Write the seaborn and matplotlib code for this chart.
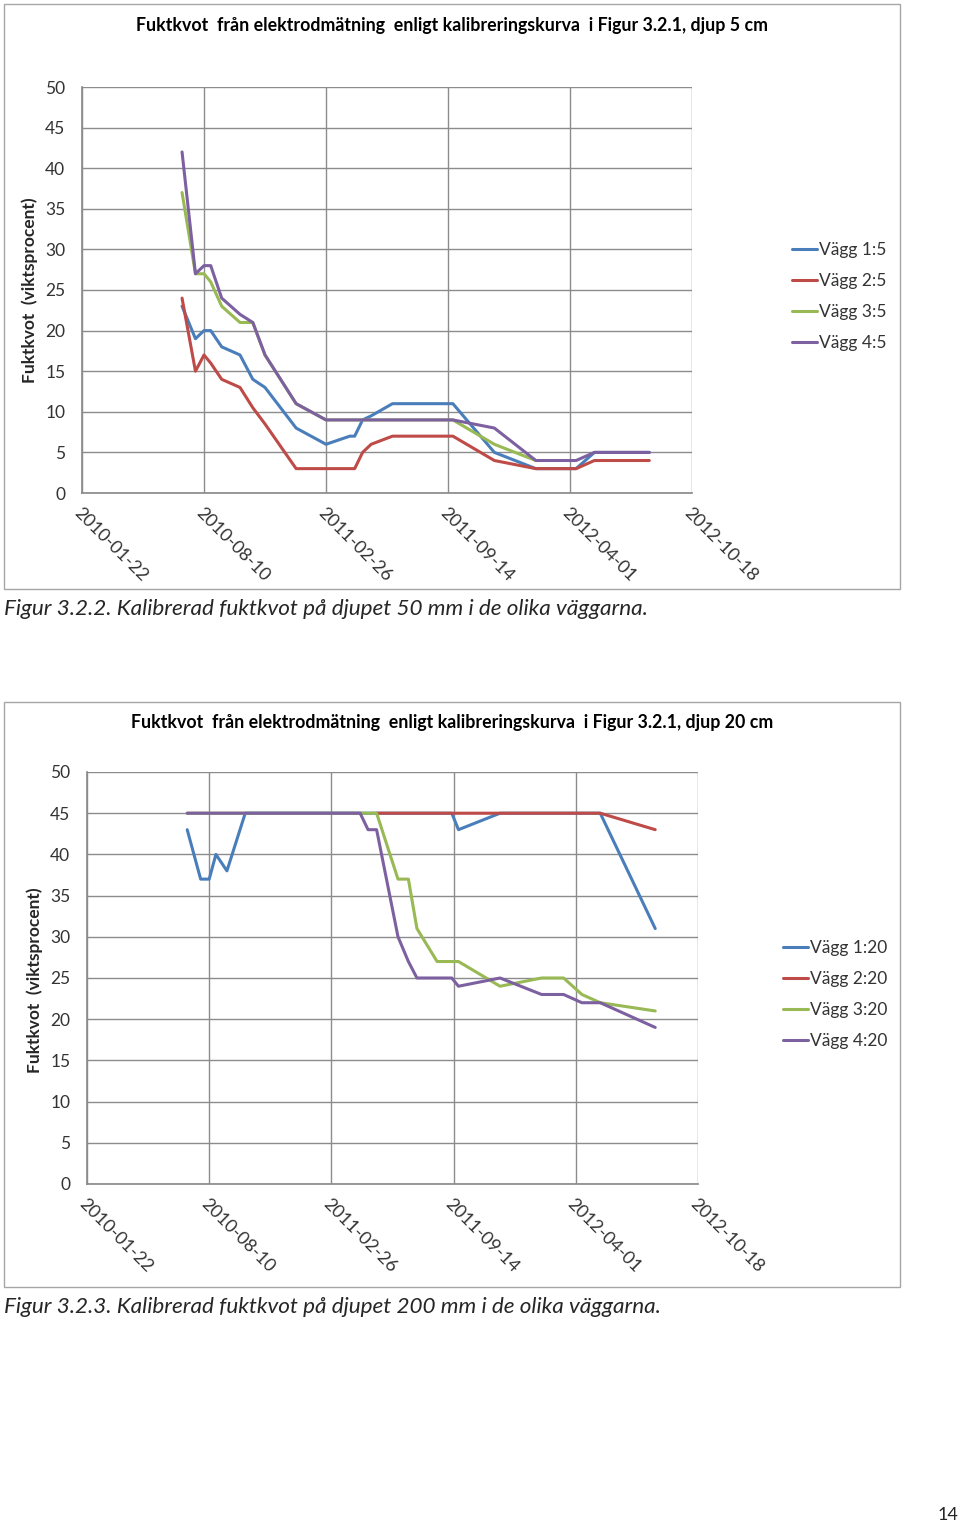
import pandas as pd
import numpy as np
import matplotlib
matplotlib.use("Agg")
import matplotlib.pyplot as plt
import matplotlib.dates as mdates
from matplotlib.patches import Rectangle
import seaborn as sns

# --- Data ---
nan = np.nan

# Figur 3.2.2, djup 5 cm
dates_5 = ['2010-07-05', '2010-07-27', '2010-08-10', '2010-08-21', '2010-09-08',
           '2010-10-08', '2010-10-29', '2010-11-18', '2011-01-08', '2011-02-26',
           '2011-04-06', '2011-04-14', '2011-04-27', '2011-05-11', '2011-06-15',
           '2011-09-22', '2011-11-29', '2012-02-05', '2012-04-11', '2012-05-11',
           '2012-08-09']
vagg1_5 = [23, 19, 20, 20, 18, 17, 14, 13, 8, 6, 7, 7, 9, 9.5, 11, 11, 5, 3, 3, 5, 5]
vagg2_5 = [24, 15, 17, 16, 14, 13, 10.5, 8.5, 3, 3, 3, 3, 5, 6, 7, 7, 4, 3, 3, 4, 4]
vagg3_5 = [37, 27, 27, 26, 23, 21, 21, 17, 11, 9, 9, 9, 9, 9, 9, 9, 6, 4, nan, nan, nan]
vagg4_5 = [42, 27, 28, 28, 24, 22, 21, 17, 11, 9, 9, 9, 9, 9, 9, 9, 8, 4, 4, 5, 5]
labels_5 = ['Vägg 1:5', 'Vägg 2:5', 'Vägg 3:5', 'Vägg 4:5']

# Figur 3.2.3, djup 20 cm
dates_20 = ['2010-07-05', '2010-07-27', '2010-08-10', '2010-08-21', '2010-09-08',
            '2010-10-08', '2010-11-18', '2011-01-08', '2011-02-26', '2011-04-14',
            '2011-04-27', '2011-05-11', '2011-06-15', '2011-07-02', '2011-07-16',
            '2011-08-18', '2011-09-11', '2011-09-22', '2011-11-29', '2012-02-05',
            '2012-03-12', '2012-04-11', '2012-05-11', '2012-08-09']
vagg1_20 = [43, 37, 37, 40, 38, 45, 45, 45, 45, 45, 45, 45, 45, 45, 45,
            45, 45, 43, 45, 45, 45, 45, 45, 31]
vagg2_20 = [nan, nan, nan, nan, nan, nan, nan, nan, nan, nan, nan, 45, 45, 45, 45,
            45, 45, 45, 45, 45, 45, 45, 45, 43]
vagg3_20 = [45, 45, 45, 45, 45, 45, 45, 45, 45, 45, 45, 45, 37, 37, 31,
            27, 27, 27, 24, 25, 25, 23, 22, 21]
vagg4_20 = [45, 45, 45, 45, 45, 45, 45, 45, 45, 45, 43, 43, 30, 27, 25,
            25, 25, 24, 25, 23, 23, 22, 22, 19]
labels_20 = ['Vägg 1:20', 'Vägg 2:20', 'Vägg 3:20', 'Vägg 4:20']

tick_dates = ['2010-01-22', '2010-08-10', '2011-02-26', '2011-09-14', '2012-04-01', '2012-10-18']

COLORS = ['#4A7EBB', '#BE4B48', '#98B954', '#7D60A0']
GRID = '#8C8C8C'
TXT = '#333333'
FONT = 'Lato'

W, H = 960, 1523


def long_df(dates, series, labels):
    parts = []
    for vals, lab in zip(series, labels):
        d = pd.DataFrame({'datum': pd.to_datetime(dates), 'fuktkvot': vals, 'serie': lab})
        parts.append(d.dropna())
    return pd.concat(parts, ignore_index=True)


def fig_rect(x0, y0, x1, y1):
    # pixel box -> figure fraction [left, bottom, width, height]
    return [x0 / W, 1 - y1 / H, (x1 - x0) / W, (y1 - y0) / H]


def draw_chart(df, labels, title, ax_box, frame_box, title_y, ylab_xy, leg_xy):
    ax = fig.add_axes(fig_rect(*ax_box))
    sns.lineplot(data=df, x='datum', y='fuktkvot', hue='serie', hue_order=labels,
                 palette=COLORS, linewidth=2.2, estimator=None, sort=False, ax=ax)

    ticks = pd.to_datetime(tick_dates)
    ax.set_xlim(ticks[0], ticks[-1])
    ax.set_ylim(0, 50)
    ax.set_yticks(range(0, 51, 5))
    ax.set_xticks(ticks)
    ax.xaxis.set_major_formatter(mdates.DateFormatter('%Y-%m-%d'))
    ax.grid(True, color=GRID, linewidth=1)
    ax.set_axisbelow(True)
    for s in ['top', 'right']:
        ax.spines[s].set_visible(False)
    for s in ['left', 'bottom']:
        ax.spines[s].set_color(GRID)
    ax.tick_params(axis='both', colors=GRID, length=5, width=1, labelcolor=TXT,
                   labelsize=12.5)
    ax.tick_params(axis='y', pad=7)
    for lab in ax.get_xticklabels():
        lab.set_rotation(-45)
        lab.set_ha('left')
        lab.set_va('top')
        lab.set_rotation_mode('anchor')
        lab.set_fontsize(13)
    ax.set_xlabel('')
    ax.set_ylabel('')

    # legend to the right of the plot
    handles, labs = ax.get_legend_handles_labels()
    ax.legend(handles, labs, loc='upper left', frameon=False, fontsize=12.5,
              bbox_to_anchor=(leg_xy[0] / W, 1 - leg_xy[1] / H), bbox_transform=fig.transFigure,
              handlelength=1.45, handletextpad=0.1, labelspacing=0.86, borderpad=0,
              borderaxespad=0, labelcolor=TXT)

    fig.text(452 / W, 1 - title_y / H, title, ha='center', va='center',
             fontsize=12.8, fontweight='bold', color='black', family=FONT)
    fig.text(ylab_xy[0] / W, 1 - ylab_xy[1] / H, 'Fuktkvot  (viktsprocent)', rotation=90,
             ha='center', va='center', fontsize=12.5, fontweight='bold', family=FONT)
    fig.add_artist(Rectangle((frame_box[0] / W, 1 - frame_box[3] / H),
                             (frame_box[2] - frame_box[0]) / W,
                             (frame_box[3] - frame_box[1]) / H,
                             transform=fig.transFigure, fill=False,
                             edgecolor='#A6A6A6', linewidth=1))
    return ax


sns.set_theme(style='white')
plt.rcParams['font.family'] = [FONT, 'DejaVu Sans']

fig = plt.figure(figsize=(W / 100, H / 100), dpi=100)

df5 = long_df(dates_5, [vagg1_5, vagg2_5, vagg3_5, vagg4_5], labels_5)
draw_chart(df5, labels_5,
           'Fuktkvot  från elektrodmätning  enligt kalibreringskurva  i Figur 3.2.1, djup 5 cm',
           ax_box=(82, 87, 692, 493), frame_box=(4, 4, 900, 589), title_y=25,
           ylab_xy=(30, 290), leg_xy=(792, 242))

df20 = long_df(dates_20, [vagg1_20, vagg2_20, vagg3_20, vagg4_20], labels_20)
draw_chart(df20, labels_20,
           'Fuktkvot  från elektrodmätning  enligt kalibreringskurva  i Figur 3.2.1, djup 20 cm',
           ax_box=(87, 772, 698, 1184), frame_box=(4, 702, 900, 1287), title_y=723,
           ylab_xy=(35, 980), leg_xy=(783, 940))

fig.text(4 / W, 1 - 609 / H,
         'Figur 3.2.2. Kalibrerad fuktkvot på djupet 50 mm i de olika väggarna.',
         ha='left', va='center', fontsize=16.2, style='italic', family=FONT)
fig.text(4 / W, 1 - 1307 / H,
         'Figur 3.2.3. Kalibrerad fuktkvot på djupet 200 mm i de olika väggarna.',
         ha='left', va='center', fontsize=16.2, style='italic', family=FONT)
fig.text(958 / W, 1 - 1515 / H, '14', ha='right', va='center', fontsize=13, family=FONT)

fig.savefig('out.png', dpi=100, facecolor='white')
